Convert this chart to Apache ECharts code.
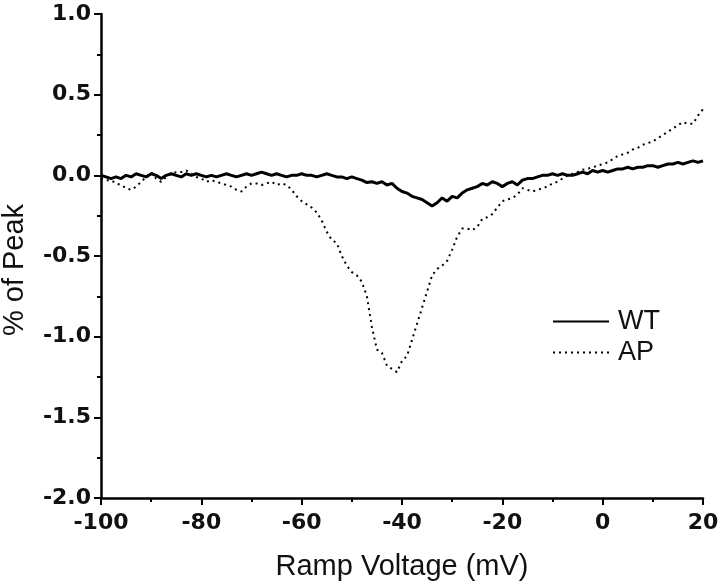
<!DOCTYPE html>
<html><head><meta charset="utf-8">
<script src="https://cdn.jsdelivr.net/npm/echarts@6/dist/echarts.min.js"></script>
<style>html,body{margin:0;padding:0;background:#fff}#c{width:720px;height:587px}</style>
</head><body><div id="c"></div>
<script>
// Ramp voltage (mV), 1 mV steps from -100 to 20
const voltages = [];
for (let v = -100; v <= 20; v++) voltages.push(v);

const wtValues = [
 0.00,-0.01,-0.02,-0.01,-0.02, 0.00,-0.01, 0.01, 0.00,-0.01,
 0.01, 0.00,-0.02, 0.00, 0.01, 0.00,-0.01, 0.01, 0.00, 0.01,
 0.00,-0.01, 0.00,-0.01, 0.00, 0.01, 0.00,-0.01, 0.00, 0.01,
 0.00, 0.01, 0.02, 0.01, 0.00, 0.01, 0.00,-0.01, 0.00, 0.00,
 0.01, 0.00, 0.00,-0.01, 0.00, 0.01, 0.00,-0.01,-0.01,-0.02,
-0.01,-0.02,-0.03,-0.045,-0.04,-0.05,-0.04,-0.06,-0.05,-0.08,
-0.10,-0.11,-0.13,-0.14,-0.15,-0.17,-0.19,-0.17,-0.14,-0.16,
-0.13,-0.14,-0.11,-0.09,-0.08,-0.07,-0.05,-0.06,-0.04,-0.05,
-0.07,-0.05,-0.04,-0.06,-0.03,-0.02,-0.02,-0.01, 0.00, 0.00,
 0.01, 0.00, 0.01, 0.00, 0.00, 0.01, 0.02, 0.01, 0.03, 0.02,
 0.03, 0.02, 0.03, 0.04, 0.04, 0.05, 0.04, 0.05, 0.05, 0.06,
 0.06, 0.05, 0.06, 0.07, 0.07, 0.08, 0.07, 0.08, 0.09, 0.08,
 0.09
];

const apValues = [
-0.02,-0.03,-0.03,-0.05,-0.06,-0.08,-0.09,-0.07,-0.04,-0.01,
 0.02,-0.02,-0.04,-0.01, 0.01, 0.02, 0.02, 0.03, 0.01,-0.01,
-0.02,-0.04,-0.03,-0.04,-0.05,-0.06,-0.07,-0.09,-0.10,-0.07,
-0.05,-0.05,-0.06,-0.05,-0.04,-0.06,-0.05,-0.06,-0.09,-0.13,
-0.16,-0.18,-0.20,-0.23,-0.28,-0.35,-0.40,-0.42,-0.50,-0.56,
-0.60,-0.62,-0.66,-0.75,-0.94,-1.08,-1.10,-1.18,-1.20,-1.22,
-1.15,-1.12,-1.02,-0.92,-0.82,-0.72,-0.62,-0.58,-0.56,-0.53,
-0.46,-0.38,-0.33,-0.33,-0.34,-0.32,-0.27,-0.26,-0.24,-0.20,
-0.16,-0.15,-0.14,-0.12,-0.08,-0.09,-0.10,-0.09,-0.08,-0.07,
-0.05,-0.04,-0.02, 0.00, 0.01, 0.02, 0.035,0.04, 0.05, 0.06,
 0.07, 0.08, 0.10, 0.12, 0.13, 0.14, 0.16, 0.17, 0.19, 0.20,
 0.21, 0.23, 0.25, 0.27, 0.29, 0.31, 0.33, 0.32, 0.32, 0.37,
 0.41
];

const seriesNames = ['WT', 'AP'];

const pair = (xs, ys) => xs.map((x, i) => [x, ys[i]]);

const tickFont = {fontFamily: '"DejaVu Sans", sans-serif', fontWeight: 'bold', fontSize: 22, color: '#111'};
const nameFont = {fontFamily: '"Liberation Sans", Arial, sans-serif', fontWeight: 'normal', fontSize: 29, color: '#111'};

const chart = echarts.init(document.getElementById('c'), null, {renderer: 'canvas'});
chart.setOption({
  animation: false,
  backgroundColor: '#fff',
  grid: {left: 101, right: 17, top: 14, bottom: 89, containLabel: false, outerBoundsMode: 'none'},
  legend: {
    left: 552, top: 308, orient: 'vertical', itemWidth: 56, itemHeight: 14, itemGap: 4, padding: 0,
    itemStyle: {opacity: 0},
    textStyle: {fontFamily: '"Liberation Sans", Arial, sans-serif', fontSize: 27, color: '#111', padding: [0, 0, 0, 4]},
    data: seriesNames
  },
  xAxis: {
    type: 'value', min: -100, max: 20, interval: 20,
    name: 'Ramp Voltage (mV)', nameLocation: 'middle', nameGap: 54, nameTextStyle: nameFont,
    axisLine: {show: true, onZero: false, lineStyle: {color: '#000', width: 2.5}},
    axisTick: {show: true, inside: false, length: 7, lineStyle: {color: '#000', width: 2}},
    minorTick: {show: true, splitNumber: 2, length: 4, lineStyle: {color: '#000', width: 2}},
    splitLine: {show: false},
    axisLabel: Object.assign({margin: 14}, tickFont)
  },
  yAxis: {
    type: 'value', min: -2, max: 1, interval: 0.5,
    name: '% of Peak', nameLocation: 'middle', nameGap: 72, nameRotate: 90,
    nameTextStyle: Object.assign({padding: [0, 28, 0, 0]}, nameFont),
    axisLine: {show: true, onZero: false, lineStyle: {color: '#000', width: 2.5}},
    axisTick: {show: true, inside: false, length: 7, lineStyle: {color: '#000', width: 2}},
    minorTick: {show: true, splitNumber: 2, length: 4, lineStyle: {color: '#000', width: 2}},
    splitLine: {show: false},
    axisLabel: Object.assign({margin: 10, formatter: v => v.toFixed(1)}, tickFont)
  },
  series: [
    {name: seriesNames[0], type: 'line', data: pair(voltages, wtValues), symbol: 'none', smooth: false,
     lineStyle: {color: '#000', width: 3}, itemStyle: {color: '#000'}, z: 3},
    {name: seriesNames[1], type: 'line', data: pair(voltages, apValues), symbol: 'none', smooth: false,
     lineStyle: {color: '#000', width: 2, type: [2, 4]}, itemStyle: {color: '#000'}, z: 2}
  ]
});
</script></body></html>
